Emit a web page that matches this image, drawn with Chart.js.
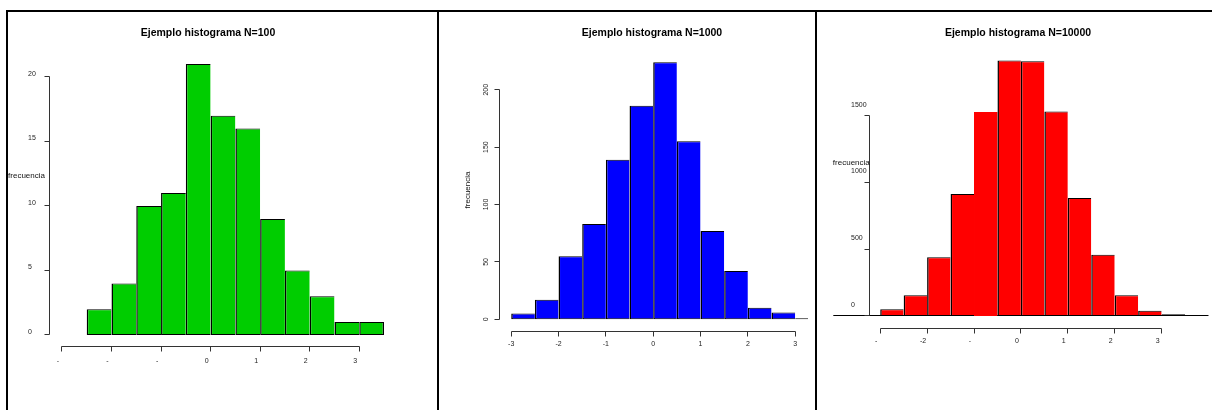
<!DOCTYPE html>
<html>
<head>
<meta charset="utf-8">
<title>Ejemplo histograma</title>
<script src="https://cdn.jsdelivr.net/npm/chart.js@4.4.1/dist/chart.umd.min.js"></script>
<style>
  html, body { margin: 0; padding: 0; background: #fff; }
  body { width: 1212px; height: 410px; position: relative; overflow: hidden; }
  .panel { position: absolute; top: 10px; height: 398px; border-top: 2px solid #000; border-left: 2px solid #000; }
  .panel canvas { position: absolute; left: 0; top: 0; }
</style>
</head>
<body>
<div class="panel" style="left:6px;width:429px"><canvas id="hist-100" width="429" height="398"></canvas></div>
<div class="panel" style="left:437px;width:376px"><canvas id="hist-1000" width="400" height="398"></canvas></div>
<div class="panel" style="left:815px;width:395px"><canvas id="hist-10000" width="395" height="398"></canvas></div>
<script>
const X_TICKS = [-3, -2, -1, 0, 1, 2, 3];

// N=100
const centers100 = [-2.25, -1.75, -1.25, -0.75, -0.25, 0.25, 0.75, 1.25, 1.75, 2.25, 2.75, 3.25];
const counts100 = [2, 4, 10, 11, 21, 17, 16, 9, 5, 3, 1, 1];
const yTicks100 = [0, 5, 10, 15, 20];
const xLabels100 = ["-", "-", "-", "0", "1", "2", "3"];

// N=1000
const centers1000 = [-2.75, -2.25, -1.75, -1.25, -0.75, -0.25, 0.25, 0.75, 1.25, 1.75, 2.25, 2.75, 3.25];
const counts1000 = [5, 17, 55, 83, 139, 186, 224, 155, 77, 42, 10, 6, 1];
const yTicks1000 = [0, 50, 100, 150, 200];
const xLabels1000 = ["-3", "-2", "-1", "0", "1", "2", "3"];

// N=10000
const centers10000 = [-3.25, -2.75, -2.25, -1.75, -1.25, -0.75, -0.25, 0.25, 0.75, 1.25, 1.75, 2.25, 2.75, 3.25];
const counts10000 = [7, 50, 155, 439, 913, 1527, 1913, 1908, 1532, 883, 459, 155, 40, 13];
const yTicks10000 = [0, 500, 1000, 1500];
const xLabels10000 = ["-", "-2", "-", "0", "1", "2", "3"];

const FONT = "'Liberation Sans', Arial, Helvetica, sans-serif";
const TICK_LEN = 5;
const X_SCALE_HEIGHT = 30;
const YLAB = "frecuencia";

Chart.defaults.font.family = FONT;

const panels = [
  {
    id: "hist-100", title: "Ejemplo histograma N=100", color: "#00cd00",
    centers: centers100, counts: counts100, yTicks: yTicks100, xLabels: xLabels100,
    area: { left: 41, right: 380, top: 40, bottom: 334 },
    xRange: [-3.261, 3.58], yRange: [-0.853, 21.938],
    yAxis: { width: 21, crossAlign: "far", padding: 0, offset: -3, rotation: 0 },
    xAxis: { padding: 11, offset: -4 },
    ylab: { x: 18.5, y: 164, rotate: false },
  },
  {
    id: "hist-1000", title: "Ejemplo histograma N=1000", color: "#0000ff",
    centers: centers1000, counts: counts1000, yTicks: yTicks1000, xLabels: xLabels1000,
    area: { left: 60, right: 386, top: 40, bottom: 319 },
    xRange: [-3.258, 3.63], yRange: [-10.19, 232.84],
    yAxis: { width: 20, crossAlign: "center", padding: 7, offset: 0, rotation: 90 },
    xAxis: { padding: 9, offset: 0 },
    ylab: { x: 28.7, y: 178, rotate: true },
    clipRight: -17,
  },
  {
    id: "hist-10000", title: "Ejemplo histograma N=10000", color: "#ff0000",
    centers: centers10000, counts: counts10000, yTicks: yTicks10000, xLabels: xLabels10000,
    area: { left: 52, right: 368, top: 40, bottom: 316 },
    xRange: [-3.239, 3.499], yRange: [-89.9, 1977],
    yAxis: { width: 18, crossAlign: "far", padding: 0, offset: -11, rotation: 0 },
    xAxis: { padding: 9, offset: -4 },
    ylab: { x: 34.3, y: 150.7, rotate: false },
    baseline: [-4, 4],
    noOutline: [5],
  },
];

// R-style detached axes, drawn from the chart's own scales
function rAxesPlugin(p) {
  return {
    id: "rAxes",
    beforeDatasetsDraw(chart) {
      if (!p.baseline) return;
      const { ctx, scales: { x, y } } = chart;
      const py = Math.floor(y.getPixelForValue(0)) + 0.5;
      ctx.save();
      ctx.strokeStyle = "#000";
      ctx.lineWidth = 1;
      ctx.beginPath();
      ctx.moveTo(x.getPixelForValue(p.baseline[0]), py);
      ctx.lineTo(x.getPixelForValue(p.baseline[1]), py);
      ctx.stroke();
      ctx.restore();
    },
    afterDatasetsDraw(chart) {
      const { ctx, chartArea, scales: { x, y } } = chart;
      const ax = Math.floor(chartArea.left) + 0.5;
      const ay = Math.floor(chartArea.bottom) + 0.5;
      const yPix = p.yTicks.map((v) => Math.floor(y.getPixelForValue(v)) + 0.5);
      const xPix = X_TICKS.map((v) => Math.floor(x.getPixelForValue(v)) + 0.5);

      ctx.save();
      ctx.strokeStyle = "#333";
      ctx.lineWidth = 1;
      ctx.beginPath();
      ctx.moveTo(ax, yPix[0]);
      ctx.lineTo(ax, yPix[yPix.length - 1]);
      for (const py of yPix) {
        ctx.moveTo(ax - TICK_LEN, py);
        ctx.lineTo(ax, py);
      }
      ctx.moveTo(xPix[0], ay);
      ctx.lineTo(xPix[xPix.length - 1], ay);
      for (const px of xPix) {
        ctx.moveTo(px, ay);
        ctx.lineTo(px, ay + TICK_LEN);
      }
      ctx.stroke();

      ctx.fillStyle = "#111";
      ctx.font = `8px ${FONT}`;
      ctx.textAlign = "center";
      ctx.textBaseline = "middle";
      ctx.translate(p.ylab.x, p.ylab.y);
      if (p.ylab.rotate) ctx.rotate(-Math.PI / 2);
      ctx.fillText(YLAB, 0, 0);
      ctx.restore();
    },
  };
}

function renderPanel(p) {
  const canvas = document.getElementById(p.id);
  const W = canvas.width;
  const H = canvas.height;
  const noOutline = p.noOutline || [];
  const last = p.counts.length - 1;

  new Chart(canvas, {
    type: "bar",
    data: {
      datasets: [
        {
          data: p.centers.map((c, i) => ({ x: c, y: p.counts[i] })),
          backgroundColor: p.color,
          borderColor: "#000",
          // one shared edge between neighbouring bars, like R's hist()
          borderWidth: (ctx) =>
            noOutline.includes(ctx.dataIndex)
              ? 0
              : { top: 1, bottom: 1, left: 1.5, right: ctx.dataIndex === last ? 1.5 : 0 },
          borderSkipped: false,
          inflateAmount: 0,
          barPercentage: 1,
          categoryPercentage: 1,
          clip: p.clipRight !== undefined
            ? { left: false, top: false, right: p.clipRight, bottom: false }
            : false,
        },
      ],
    },
    options: {
      responsive: false,
      animation: false,
      events: [],
      layout: {
        padding: {
          left: p.area.left - p.yAxis.width,
          right: W - p.area.right,
          top: 0,
          bottom: H - p.area.bottom - X_SCALE_HEIGHT,
        },
      },
      plugins: {
        legend: { display: false },
        tooltip: { enabled: false },
        title: {
          display: true,
          text: p.title,
          color: "#000",
          font: { size: 10.5, weight: "bold", lineHeight: 1.2 },
          padding: { top: 14.7, bottom: 12.7 },
        },
      },
      scales: {
        x: {
          type: "linear",
          offset: false,
          bounds: "data",
          min: p.xRange[0],
          max: p.xRange[1],
          grid: { display: false, drawTicks: false },
          border: { display: false },
          afterBuildTicks: (scale) => {
            scale.ticks = X_TICKS.map((value) => ({ value }));
          },
          afterFit: (scale) => {
            scale.height = X_SCALE_HEIGHT;
          },
          ticks: {
            autoSkip: false,
            maxRotation: 0,
            minRotation: 0,
            padding: p.xAxis.padding,
            labelOffset: p.xAxis.offset,
            color: "#222",
            font: { size: 7 },
            callback: (value, index) => p.xLabels[index],
          },
        },
        y: {
          type: "linear",
          bounds: "data",
          min: p.yRange[0],
          max: p.yRange[1],
          grid: { display: false, drawTicks: false },
          border: { display: false },
          afterBuildTicks: (scale) => {
            scale.ticks = p.yTicks.map((value) => ({ value }));
          },
          afterFit: (scale) => {
            scale.width = p.yAxis.width;
          },
          ticks: {
            autoSkip: false,
            minRotation: p.yAxis.rotation,
            maxRotation: p.yAxis.rotation,
            crossAlign: p.yAxis.crossAlign,
            padding: p.yAxis.padding,
            labelOffset: p.yAxis.offset,
            color: "#222",
            font: { size: 7 },
            callback: (value) => String(value),
          },
        },
      },
    },
    plugins: [rAxesPlugin(p)],
  });
}

panels.forEach(renderPanel);
</script>
</body>
</html>
